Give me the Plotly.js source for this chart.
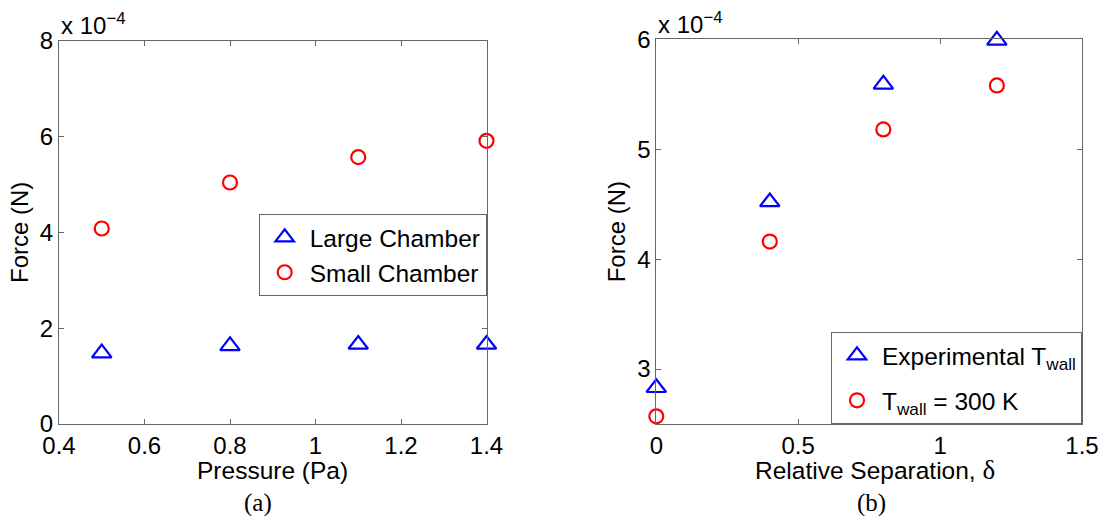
<!DOCTYPE html>
<html>
<head>
<meta charset="utf-8">
<script src="https://cdn.plot.ly/plotly-3.0.1.min.js"></script>
<style>html,body{margin:0;padding:0;background:#fff;}#chart{width:1107px;height:516px;}</style>
</head>
<body>
<div id="chart"></div>
<script>
// Force values are in units of 1e-4 N
var pressure = [0.5, 0.8, 1.1, 1.4];
var largeChamber = [1.48, 1.63, 1.66, 1.66];
var smallChamber = [4.08, 5.04, 5.57, 5.91];

var separation = [0, 0.4, 0.8, 1.2];
var experimentalTwall = [2.83, 4.52, 5.59, 5.99];
var twall300 = [2.57, 4.16, 5.18, 5.58];

var xTicksA = [0.4, 0.6, 0.8, 1, 1.2, 1.4];
var yTicksA = [0, 2, 4, 6, 8];
var xTicksB = [0, 0.5, 1, 1.5];
var yTicksB = [3, 4, 5, 6];

var W = 1107, H = 516;
var FONT = 'Liberation Sans, Arial, sans-serif';
var SERIF = 'Liberation Serif, Times New Roman, serif';
var frame = '#666666';

var tri = {symbol: 'triangle-up-open', size: 17, color: '#0000ff', line: {color: '#0000ff', width: 2.2}};
var circ = {symbol: 'circle-open', size: 14, color: '#ff0000', line: {color: '#ff0000', width: 2.2}};

var traces = [
  {x: pressure, y: largeChamber, name: 'Large Chamber', mode: 'markers', type: 'scatter', marker: tri, xaxis: 'x', yaxis: 'y', legend: 'legend', cliponaxis: false},
  {x: pressure, y: smallChamber, name: 'Small Chamber', mode: 'markers', type: 'scatter', marker: circ, xaxis: 'x', yaxis: 'y', legend: 'legend', cliponaxis: false},
  {x: separation, y: experimentalTwall, name: 'Experimental T<sub>wall</sub>', mode: 'markers', type: 'scatter', marker: tri, xaxis: 'x2', yaxis: 'y2', legend: 'legend2', legendgroup: 'g1', cliponaxis: false},
  {x: separation, y: twall300, name: 'T<sub>wall</sub> = 300 K', mode: 'markers', type: 'scatter', marker: circ, xaxis: 'x2', yaxis: 'y2', legend: 'legend2', legendgroup: 'g2', cliponaxis: false}
];

function axisBase() {
  return {
    showgrid: false, zeroline: false, showline: true, linecolor: frame, linewidth: 1,
    mirror: 'ticks', ticks: 'inside', ticklen: 5, tickcolor: frame, tickwidth: 1,
    tickfont: {family: FONT, size: 24, color: '#000'}, fixedrange: true
  };
}

var xa = axisBase(); xa.domain = [59/W, 486.5/W]; xa.range = [0.4, 1.4]; xa.tickvals = xTicksA; xa.ticktext = xTicksA.map(String); xa.anchor = 'y';
var ya = axisBase(); ya.domain = [92/H, 475.3/H]; ya.range = [0, 8]; ya.tickvals = yTicksA; ya.ticktext = yTicksA.map(String); ya.anchor = 'x';
ya.title = {text: 'Force (N)', font: {family: FONT, size: 24, color: '#000'}, standoff: 4};

var xb = axisBase(); xb.domain = [656.3/W, 1082/W]; xb.range = [0, 1.5]; xb.tickvals = xTicksB; xb.ticktext = xTicksB.map(String); xb.anchor = 'y2';
var yb = axisBase(); yb.domain = [92/H, 476.7/H]; yb.range = [2.5, 6]; yb.tickvals = yTicksB; yb.ticktext = yTicksB.map(String); yb.anchor = 'x2';
yb.title = {text: 'Force (N)', font: {family: FONT, size: 24, color: '#000'}, standoff: 4};

var legendStyle = {
  bgcolor: '#ffffff', bordercolor: frame, borderwidth: 1, itemwidth: 40,
  font: {family: FONT, size: 24.5, color: '#000'}, itemclick: false, itemdoubleclick: false
};

var layout = {
  width: W, height: H,
  margin: {l: 0, r: 0, t: 0, b: 0, autoexpand: false},
  paper_bgcolor: '#ffffff', plot_bgcolor: '#ffffff',
  showlegend: true,
  xaxis: xa, yaxis: ya, xaxis2: xb, yaxis2: yb,
  legend: Object.assign({x: 486.7/W, xanchor: 'right', y: (H-214)/H, yanchor: 'top'}, legendStyle),
  legend2: Object.assign({x: 1082/W, xanchor: 'right', y: (H-424)/H, yanchor: 'bottom', tracegroupgap: 10, traceorder: 'grouped'}, legendStyle),
  annotations: [
    {xref: 'paper', yref: 'paper', x: 59/W, y: (H-41)/H, xanchor: 'left', yanchor: 'bottom', showarrow: false,
     text: 'x 10<sup>−4</sup>', font: {family: FONT, size: 24, color: '#000'}},
    {xref: 'paper', yref: 'paper', x: 656/W, y: (H-40)/H, xanchor: 'left', yanchor: 'bottom', showarrow: false,
     text: 'x 10<sup>−4</sup>', font: {family: FONT, size: 24, color: '#000'}},
    {xref: 'paper', yref: 'paper', x: 272/W, y: (H-470)/H, xanchor: 'center', yanchor: 'middle', showarrow: false,
     text: 'Pressure (Pa)', font: {family: FONT, size: 24.5, color: '#000'}},
    {xref: 'paper', yref: 'paper', x: 875/W, y: (H-470)/H, xanchor: 'center', yanchor: 'middle', showarrow: false,
     text: 'Relative Separation, <span style="font-family:Liberation Serif, Times New Roman, serif;font-size:27px">δ</span>', font: {family: FONT, size: 24.5, color: '#000'}},
    {xref: 'paper', yref: 'paper', x: 258/W, y: (H-503)/H, xanchor: 'center', yanchor: 'middle', showarrow: false,
     text: '(a)', font: {family: SERIF, size: 25, color: '#000'}},
    {xref: 'paper', yref: 'paper', x: 871/W, y: (H-503)/H, xanchor: 'center', yanchor: 'middle', showarrow: false,
     text: '(b)', font: {family: SERIF, size: 25, color: '#000'}}
  ]
};

Plotly.newPlot('chart', traces, layout, {displayModeBar: false, staticPlot: true});
</script>
</body>
</html>
